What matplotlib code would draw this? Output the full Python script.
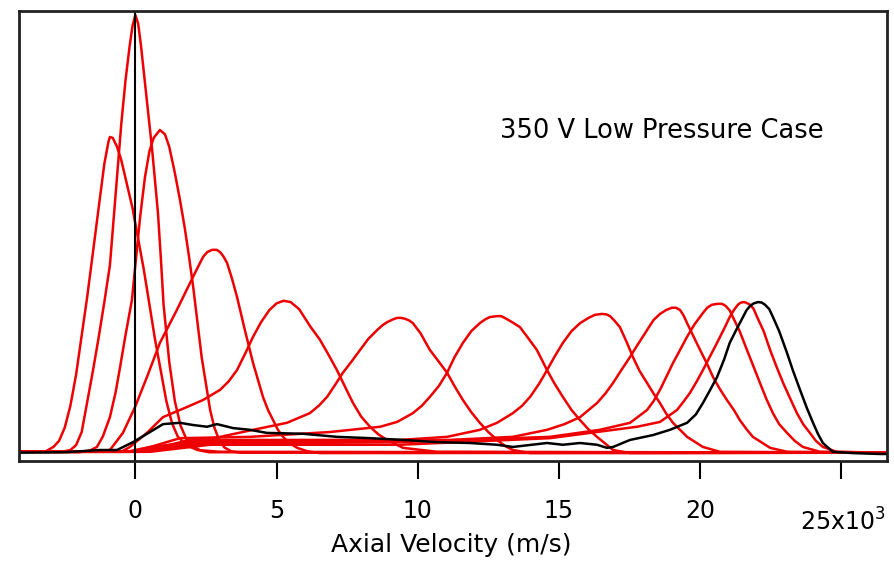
import matplotlib
matplotlib.use("Agg")
import matplotlib.pyplot as plt

# Axial velocity in 10^3 m/s, signal in normalised units
tick_values = [0, 5, 10, 15, 20, 25]
tick_labels = ["0", "5", "10", "15", "20", ""]

vA = [-4.1, -3.2, -2.9, -2.7, -2.5, -2.3, -2.1, -1.9, -1.7, -1.5, -1.3, -1.1, -0.95, -0.9, -0.8, -0.65, -0.5, -0.3, -0.1, 0.1, 0.3, 0.5, 0.7, 0.9, 1.1, 1.3, 1.5, 1.8, 2.2, 3.0, 26.6]
sA = [0.005, 0.005, 0.016, 0.03, 0.06, 0.11, 0.18, 0.27, 0.36, 0.46, 0.56, 0.66, 0.712, 0.722, 0.72, 0.70, 0.67, 0.615, 0.56, 0.49, 0.42, 0.34, 0.26, 0.19, 0.12, 0.07, 0.04, 0.02, 0.009, 0.005, 0.003]

vB = [-4.1, -2.6, -2.3, -2.1, -1.9, -1.7, -1.5, -1.3, -1.1, -0.9, -0.7, -0.5, -0.35, -0.2, -0.1, 0.0, 0.1, 0.2, 0.4, 0.6, 0.8, 0.9, 1.0, 1.2, 1.4, 1.6, 1.8, 2.0, 2.3, 2.6, 26.6]
sB = [0.005, 0.005, 0.009, 0.02, 0.05, 0.12, 0.19, 0.265, 0.345, 0.43, 0.59, 0.75, 0.85, 0.93, 0.975, 1.0, 0.98, 0.93, 0.81, 0.69, 0.55, 0.45, 0.34, 0.21, 0.12, 0.065, 0.035, 0.02, 0.008, 0.004, 0.003]

vC = [-4.1, -2.0, -1.6, -1.36, -1.15, -0.9, -0.7, -0.54, -0.35, -0.12, 0.0, 0.17, 0.34, 0.5, 0.65, 0.87, 1.05, 1.2, 1.4, 1.58, 1.75, 1.9, 2.05, 2.2, 2.35, 2.5, 2.65, 2.8, 2.95, 3.15, 3.4, 3.7, 26.6]
sC = [0.005, 0.004, 0.008, 0.016, 0.04, 0.084, 0.14, 0.198, 0.27, 0.351, 0.43, 0.54, 0.63, 0.69, 0.72, 0.738, 0.728, 0.70, 0.64, 0.579, 0.515, 0.45, 0.38, 0.30, 0.22, 0.16, 0.10, 0.06, 0.035, 0.015, 0.006, 0.003, 0.003]

vD = [-4.1, -1.5, -0.90, -0.44, -0.01, 0.41, 0.87, 1.47, 2.04, 2.25, 2.40, 2.55, 2.72, 2.88, 3.00, 3.12, 3.25, 3.42, 3.60, 3.88, 4.17, 4.52, 4.70, 4.88, 5.05, 5.23, 5.45, 5.73, 6.10, 6.54, 26.6]
sD = [0.005, 0.005, 0.009, 0.048, 0.107, 0.175, 0.253, 0.328, 0.403, 0.43, 0.449, 0.46, 0.465, 0.465, 0.460, 0.45, 0.435, 0.40, 0.358, 0.282, 0.207, 0.130, 0.10, 0.077, 0.055, 0.039, 0.025, 0.014, 0.006, 0.002, 0.003]

vE = [-4.1, -0.5, -0.19, 0.41, 0.98, 1.83, 2.40, 3.00, 3.30, 3.60, 3.90, 4.17, 4.45, 4.75, 5.00, 5.25, 5.50, 5.80, 6.20, 6.54, 6.85, 7.14, 7.45, 7.71, 8.00, 8.31, 8.60, 8.91, 9.48, 10.68, 26.6]
sE = [0.005, 0.005, 0.016, 0.048, 0.084, 0.107, 0.123, 0.146, 0.165, 0.191, 0.23, 0.267, 0.30, 0.328, 0.343, 0.349, 0.346, 0.33, 0.29, 0.260, 0.225, 0.191, 0.15, 0.116, 0.085, 0.062, 0.045, 0.032, 0.014, 0.005, 0.003]

vF = [-4.1, -0.3, 0.52, 1.83, 3.00, 4.17, 5.37, 6.18, 6.50, 6.79, 7.05, 7.35, 7.65, 7.96, 8.25, 8.56, 8.75, 8.91, 9.10, 9.27, 9.40, 9.55, 9.70, 9.83, 10.10, 10.43, 10.75, 11.04, 11.30, 11.60, 11.90, 12.20, 12.50, 12.81, 13.10, 13.37, 13.98, 26.6]
sF = [0.005, 0.005, 0.016, 0.025, 0.039, 0.055, 0.071, 0.093, 0.11, 0.130, 0.155, 0.185, 0.21, 0.237, 0.262, 0.282, 0.293, 0.300, 0.306, 0.310, 0.310, 0.308, 0.304, 0.298, 0.275, 0.237, 0.21, 0.185, 0.155, 0.123, 0.095, 0.071, 0.05, 0.032, 0.018, 0.009, 0.002, 0.003]

vG = [-4.1, -0.2, 0.17, 1.58, 4.06, 6.89, 8.67, 9.27, 9.83, 10.15, 10.43, 10.75, 11.04, 11.30, 11.60, 11.90, 12.20, 12.40, 12.56, 12.81, 12.95, 13.08, 13.35, 13.62, 13.90, 14.22, 14.58, 14.85, 15.14, 15.45, 15.75, 16.05, 16.35, 16.92, 17.52, 26.6]
sG = [0.005, 0.005, 0.009, 0.036, 0.039, 0.050, 0.062, 0.073, 0.093, 0.11, 0.130, 0.155, 0.185, 0.22, 0.253, 0.28, 0.298, 0.307, 0.312, 0.314, 0.314, 0.310, 0.30, 0.289, 0.265, 0.237, 0.191, 0.16, 0.130, 0.10, 0.077, 0.056, 0.039, 0.009, 0.002, 0.003]

vH = [-4.1, -0.1, 0.17, 1.94, 5.83, 9.37, 11.04, 12.20, 12.81, 13.37, 13.70, 13.98, 14.30, 14.58, 14.85, 15.14, 15.45, 15.75, 16.05, 16.28, 16.53, 16.68, 16.81, 16.95, 17.16, 17.40, 17.62, 17.85, 18.12, 18.35, 18.58, 18.80, 19.04, 19.54, 20.10, 20.70, 26.6]
sH = [0.005, 0.005, 0.005, 0.032, 0.032, 0.032, 0.039, 0.055, 0.071, 0.093, 0.11, 0.130, 0.16, 0.191, 0.222, 0.253, 0.28, 0.298, 0.31, 0.317, 0.319, 0.318, 0.314, 0.305, 0.289, 0.255, 0.221, 0.19, 0.162, 0.138, 0.116, 0.092, 0.071, 0.039, 0.016, 0.005, 0.003]

vI = [-4.1, 0.0, 0.17, 2.29, 7.60, 11.14, 13.37, 14.58, 15.20, 15.75, 16.05, 16.35, 16.65, 16.92, 17.20, 17.52, 17.80, 18.12, 18.35, 18.58, 18.80, 19.00, 19.15, 19.29, 19.42, 19.54, 19.75, 20.00, 20.25, 20.46, 20.70, 20.95, 21.20, 21.41, 21.65, 21.87, 22.48, 23.08, 26.6]
sI = [0.005, 0.005, 0.005, 0.027, 0.030, 0.032, 0.039, 0.055, 0.068, 0.084, 0.10, 0.116, 0.138, 0.162, 0.19, 0.221, 0.25, 0.282, 0.305, 0.319, 0.328, 0.333, 0.333, 0.328, 0.315, 0.298, 0.27, 0.237, 0.205, 0.175, 0.148, 0.123, 0.10, 0.077, 0.056, 0.039, 0.014, 0.005, 0.003]

vJ = [-4.1, 0.1, 0.34, 2.29, 9.37, 14.68, 16.45, 17.52, 18.12, 18.35, 18.58, 18.80, 19.04, 19.30, 19.54, 19.80, 20.10, 20.25, 20.42, 20.63, 20.78, 20.91, 21.05, 21.16, 21.40, 21.66, 21.90, 22.12, 22.35, 22.58, 22.80, 23.08, 23.35, 23.64, 24.25, 26.6]
sJ = [0.005, 0.005, 0.005, 0.023, 0.027, 0.039, 0.055, 0.071, 0.100, 0.12, 0.146, 0.175, 0.207, 0.238, 0.267, 0.295, 0.321, 0.333, 0.340, 0.342, 0.342, 0.337, 0.327, 0.312, 0.28, 0.237, 0.198, 0.162, 0.125, 0.093, 0.068, 0.048, 0.03, 0.016, 0.005, 0.003]

vK = [-4.1, 0.2, 0.52, 2.65, 9.37, 14.68, 17.77, 18.58, 19.18, 19.40, 19.64, 19.88, 20.10, 20.35, 20.60, 20.85, 21.05, 21.20, 21.34, 21.42, 21.52, 21.62, 21.77, 21.90, 22.02, 22.25, 22.48, 22.70, 22.94, 23.20, 23.43, 23.65, 23.89, 24.10, 24.35, 24.84, 26.6]
sK = [0.005, 0.005, 0.005, 0.021, 0.021, 0.036, 0.062, 0.073, 0.100, 0.118, 0.139, 0.165, 0.191, 0.222, 0.253, 0.285, 0.312, 0.328, 0.340, 0.344, 0.346, 0.345, 0.340, 0.33, 0.312, 0.28, 0.237, 0.20, 0.162, 0.125, 0.093, 0.068, 0.048, 0.03, 0.016, 0.005, 0.003]

v_black = [-4.1, -2.5, -1.25, -0.65, -0.08, 0.52, 0.98, 1.58, 2.04, 2.54, 2.89, 3.46, 4.06, 4.66, 5.94, 7.14, 8.31, 9.48, 10.68, 11.85, 12.81, 13.37, 14.58, 15.14, 15.75, 16.35, 16.70, 16.92, 17.52, 18.33, 18.93, 19.54, 19.85, 20.10, 20.35, 20.60, 20.85, 21.05, 21.30, 21.52, 21.65, 21.77, 21.90, 22.05, 22.18, 22.30, 22.45, 22.58, 22.80, 23.08, 23.30, 23.54, 23.78, 24.00, 24.18, 24.35, 24.70, 25.41, 26.37, 26.62]
s_black = [0.003, 0.004, 0.009, 0.009, 0.027, 0.050, 0.068, 0.071, 0.066, 0.062, 0.068, 0.059, 0.055, 0.048, 0.046, 0.039, 0.036, 0.032, 0.027, 0.025, 0.021, 0.016, 0.025, 0.021, 0.025, 0.021, 0.014, 0.016, 0.032, 0.043, 0.055, 0.071, 0.09, 0.116, 0.145, 0.175, 0.215, 0.253, 0.285, 0.312, 0.328, 0.337, 0.343, 0.346, 0.345, 0.340, 0.33, 0.312, 0.28, 0.230, 0.188, 0.146, 0.105, 0.071, 0.045, 0.025, 0.005, 0.002, 0.000, 0.000]

red_curves = [(vA, sA), (vB, sB), (vC, sC), (vD, sD), (vE, sE), (vF, sF),
              (vG, sG), (vH, sH), (vI, sI), (vJ, sJ), (vK, sK)]

fig = plt.figure(figsize=(8.94, 5.61), dpi=100)
ax = fig.add_axes([19 / 894, 100 / 561, 868 / 894, 450 / 561])

for v, s in red_curves:
    ax.plot(v, s, color="#ee0000", lw=1.8, solid_joinstyle="round")
ax.plot(v_black, s_black, color="black", lw=1.8, solid_joinstyle="round")
ax.axvline(0, color="black", lw=1.5)

ax.set_xlim(-4.12, 26.62)
ax.set_ylim(-0.016, 1.009)

for sp in ax.spines.values():
    sp.set_linewidth(2.0)
    sp.set_color("#222222")

ax.set_yticks([])
ax.set_xticks(tick_values)
ax.set_xticklabels(tick_labels)
ax.tick_params(axis="x", direction="out", length=13, width=1.5, pad=14,
               labelsize=17, colors="black")
ax.text(25.05, -0.155, "25x10$^3$", fontsize=17, ha="center", va="center",
        transform=ax.transData, clip_on=False)

ax.set_xlabel("Axial Velocity (m/s)", fontsize=18)
ax.xaxis.set_label_coords(0.498, -0.16)

ax.text(12.9, 0.736, "350 V Low Pressure Case", fontsize=18.5, ha="left", va="center")

fig.savefig("out.png", dpi=100)
